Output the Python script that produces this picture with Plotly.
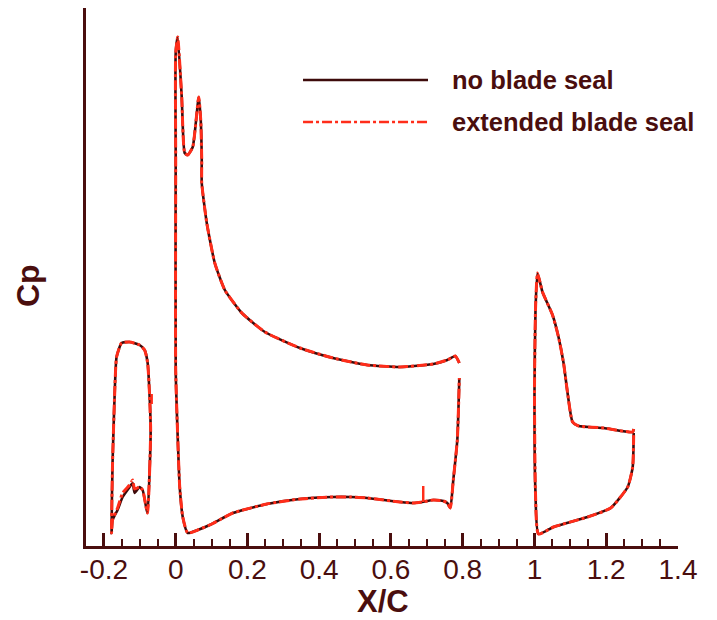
import plotly.graph_objects as go

# ---- data (x/C, -Cp) ----
slat_x = [-0.0782, -0.0726, -0.0698, -0.0726, -0.0782, -0.0866, -0.1006, -0.1285, -0.1508,
          -0.1648, -0.1704, -0.1760, -0.1788, -0.1760, -0.1620, -0.1480, -0.1285, -0.1201,
          -0.1145, -0.1006, -0.0922, -0.0810, -0.0782]
slat_y = [-0.56, 0.30, 1.10, 1.76, 2.44, 2.70, 2.80, 2.86, 2.84,
          2.56, 1.76, 0.44, -0.96, -0.70, -0.50, -0.24, -0.04, 0.04,
          -0.16, -0.04, -0.10, -0.50, -0.56]
slat_y_ext = [-0.56, 0.30, 1.10, 1.76, 2.44, 2.70, 2.80, 2.86, 2.84,
              2.56, 1.76, 0.44, -0.96, -0.70, -0.46, -0.16, 0.00, 0.10,
              -0.08, -0.04, -0.10, -0.50, -0.56]

main_x = [0.7905, 0.7793, 0.7570, 0.7179, 0.6257, 0.5335, 0.4385, 0.3464, 0.2486, 0.1844,
          0.1369, 0.1089, 0.0866, 0.0726, 0.0726, 0.0698, 0.0642, 0.0475, 0.0335, 0.0251,
          0.0168, 0.0056, 0.0000, 0.0000, 0.0000, 0.0056, 0.0112, 0.0196, 0.0335, 0.0615,
          0.1006, 0.1369, 0.1592, 0.2542, 0.3464, 0.4385, 0.4860, 0.5335, 0.6257, 0.6620,
          0.6872, 0.7179, 0.7458, 0.7570, 0.7654, 0.7737, 0.7849, 0.7905]
main_y = [2.44, 2.58, 2.50, 2.42, 2.36, 2.40, 2.54, 2.74, 3.06, 3.44,
          3.90, 4.44, 5.24, 6.04, 6.50, 7.30, 7.76, 6.76, 6.60, 6.64,
          7.76, 8.96, 8.64, 6.50, 2.30, 0.96, -0.04, -0.64, -0.96, -0.90,
          -0.78, -0.64, -0.56, -0.38, -0.28, -0.24, -0.24, -0.26, -0.34, -0.36,
          -0.34, -0.30, -0.32, -0.36, -0.46, 0.10, 0.90, 2.14]

flap_x = [1.2765, 1.2737, 1.1927, 1.1229, 1.1061, 1.0922, 1.0810, 1.0670, 1.0503, 1.0223,
          1.0084, 1.0028, 1.0000, 1.0028, 1.0112, 1.0531, 1.1480, 1.2123, 1.2598, 1.2737, 1.2765]
flap_y = [1.12, 1.06, 1.14, 1.18, 1.26, 1.84, 2.44, 2.96, 3.40, 3.86,
          4.24, 3.50, 1.84, -0.16, -0.98, -0.84, -0.64, -0.46, -0.04, 0.36, 1.04]

# short solid red pieces of the extended-seal case
spike_x = [0.6899, 0.6899]
spike_y = [-0.34, -0.02]
slat_te_x = [-0.0670, -0.0670]
slat_te_y = [1.62, 1.82]

x_ticks = [-0.2, 0, 0.2, 0.4, 0.6, 0.8, 1.0, 1.2, 1.4]
x_tick_text = ["-0.2", "0", "0.2", "0.4", "0.6", "0.8", "1", "1.2", "1.4"]

series_names = ["no blade seal", "extended blade seal"]

DARK = "#3d0b0b"
AXIS = "#4a0e0e"
RED = "#ff2d1a"
DASH = "10px,3px,3px,3px"


def joined(*parts):
    xs, ys = [], []
    for px, py in parts:
        if xs:
            xs.append(None)
            ys.append(None)
        xs += px
        ys += py
    return xs, ys


bx, by = joined((slat_x, slat_y), (main_x, main_y), (flap_x, flap_y))
rx, ry = joined((slat_x, slat_y_ext), (main_x, main_y), (flap_x, flap_y))
sx, sy = joined((spike_x, spike_y), (slat_te_x, slat_te_y))

fig = go.Figure()
fig.add_trace(go.Scatter(x=bx, y=by, mode="lines", name=series_names[0],
                         line=dict(color=DARK, width=2.6, shape="spline", smoothing=0.5),
                         showlegend=False))
fig.add_trace(go.Scatter(x=rx, y=ry, mode="lines", name=series_names[1],
                         line=dict(color=RED, width=3, dash=DASH, shape="spline", smoothing=0.5),
                         showlegend=False))
fig.add_trace(go.Scatter(x=sx, y=sy, mode="lines", name=series_names[1],
                         line=dict(color=RED, width=2.5),
                         showlegend=False))

FONT = "Liberation Sans, Arial, sans-serif"

fig.update_layout(
    width=717, height=620,
    margin=dict(l=78, r=47, t=0, b=82),
    paper_bgcolor="white", plot_bgcolor="white",
    font=dict(family=FONT, color=AXIS),
    xaxis=dict(range=[-0.25, 1.40], showgrid=False, zeroline=False,
               showline=True, linecolor=AXIS, linewidth=3,
               tickmode="array", tickvals=x_ticks, ticktext=x_tick_text,
               ticks="inside", ticklen=13, tickwidth=3, tickcolor=AXIS,
               tickfont=dict(size=28, color=AXIS, family=FONT),
               ticklabelstandoff=-4,
               minor=dict(dtick=0.05, ticks="inside", ticklen=7, tickwidth=1.5, tickcolor=AXIS)),
    yaxis=dict(range=[-1.22, 9.54], showgrid=False, zeroline=False,
               showline=True, linecolor=AXIS, linewidth=3,
               showticklabels=False, ticks=""),
)

# custom legend with long line samples
fig.add_shape(type="line", xref="paper", yref="paper", x0=0.3666, x1=0.5777, y0=0.8662, y1=0.8662,
              line=dict(color=DARK, width=2.5))
fig.add_shape(type="line", xref="paper", yref="paper", x0=0.3666, x1=0.5777, y0=0.7881, y1=0.7881,
              line=dict(color=RED, width=2.5, dash=DASH))
fig.add_annotation(xref="paper", yref="paper", x=0.6149, y=0.8662, xanchor="left", yanchor="middle",
                   text="<b>" + series_names[0] + "</b>", showarrow=False,
                   font=dict(size=25.5, color=AXIS, family=FONT))
fig.add_annotation(xref="paper", yref="paper", x=0.6149, y=0.7881, xanchor="left", yanchor="middle",
                   text="<b>" + series_names[1] + "</b>", showarrow=False,
                   font=dict(size=25.5, color=AXIS, family=FONT))

# axis titles
fig.add_annotation(xref="paper", yref="paper", x=0.502, y=-0.104, xanchor="center", yanchor="middle",
                   text="<b>X/C</b>", showarrow=False, font=dict(size=31, color=AXIS, family=FONT))
fig.add_annotation(xref="paper", yref="paper", x=-0.098, y=0.485, xanchor="center", yanchor="middle",
                   text="<b>Cp</b>", textangle=-90, showarrow=False,
                   font=dict(size=32, color=AXIS, family=FONT))

fig.write_html("out.html")
